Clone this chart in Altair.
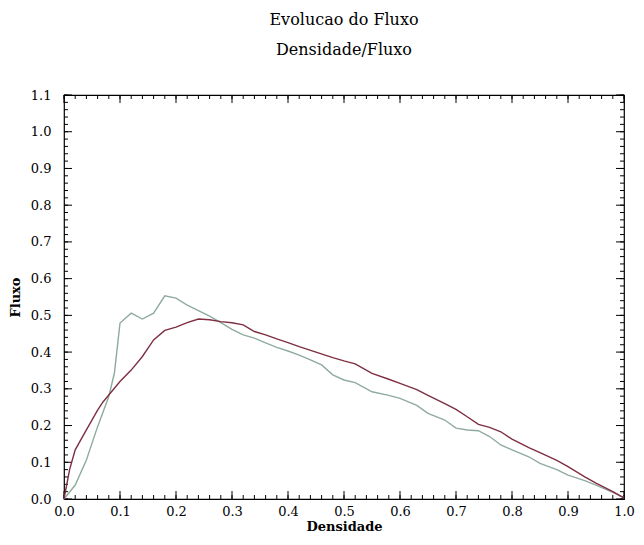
import altair as alt
import pandas as pd

# Red (dark) series
red_x = [0.0, 0.01, 0.02, 0.04, 0.06, 0.07, 0.08, 0.10, 0.12, 0.14, 0.16, 0.18, 0.20, 0.22, 0.24, 0.26,
         0.28, 0.30, 0.32, 0.34, 0.36, 0.38, 0.40, 0.42, 0.45, 0.48, 0.50, 0.52, 0.55, 0.58, 0.60, 0.63,
         0.65, 0.68, 0.70, 0.72, 0.74, 0.76, 0.78, 0.80, 0.83, 0.85, 0.88, 0.90, 0.93, 0.95, 0.98, 1.0]
red_y = [0.0, 0.08, 0.134, 0.188, 0.242, 0.265, 0.283, 0.32, 0.351, 0.388, 0.433, 0.459, 0.468, 0.48, 0.49, 0.488,
         0.483, 0.48, 0.474, 0.456, 0.447, 0.436, 0.426, 0.415, 0.40, 0.385, 0.376, 0.368, 0.342, 0.326, 0.315, 0.298,
         0.282, 0.26, 0.244, 0.224, 0.203, 0.195, 0.183, 0.163, 0.14, 0.126, 0.105, 0.088, 0.06, 0.043, 0.02, 0.003]

# Green (light) series
green_x = [0.0, 0.02, 0.04, 0.06, 0.08, 0.09, 0.10, 0.12, 0.14, 0.16, 0.18, 0.20, 0.22, 0.24, 0.26, 0.28,
           0.30, 0.32, 0.34, 0.36, 0.38, 0.40, 0.42, 0.44, 0.46, 0.48, 0.50, 0.52, 0.55, 0.58, 0.60, 0.63,
           0.65, 0.68, 0.70, 0.72, 0.74, 0.76, 0.78, 0.80, 0.83, 0.85, 0.88, 0.90, 0.93, 0.95, 0.98, 1.0]
green_y = [0.0, 0.038, 0.106, 0.197, 0.279, 0.343, 0.479, 0.506, 0.49, 0.506, 0.553, 0.547, 0.528, 0.513, 0.498, 0.48,
           0.462, 0.447, 0.438, 0.425, 0.413, 0.403, 0.392, 0.379, 0.365, 0.338, 0.324, 0.317, 0.292, 0.282, 0.274, 0.255,
           0.233, 0.215, 0.193, 0.188, 0.186, 0.17, 0.147, 0.134, 0.115, 0.097, 0.08, 0.065, 0.05, 0.038, 0.018, 0.003]

x_major = [round(0.1 * i, 2) for i in range(11)]
x_minor = [round(0.02 * i, 2) for i in range(51)]
y_major = [round(0.1 * i, 2) for i in range(12)]
y_minor = [round(0.02 * i, 2) for i in range(56)]

title_lines = ["Evolucao do Fluxo", "Densidade/Fluxo"]

W, H = 560, 404
FONT = "DejaVu Serif"

xs = alt.Scale(domain=[0, 1.0], nice=False, zero=False)
ys = alt.Scale(domain=[0, 1.1], nice=False, zero=False)

red_df = pd.DataFrame({"x": red_x, "y": red_y})
green_df = pd.DataFrame({"x": green_x, "y": green_y})

xaxis = alt.Axis(values=x_major, format=".1f", ticks=False, domain=False, grid=False,
                 labelFont=FONT, labelFontSize=13, labelColor="black", labelPadding=6,
                 labelFlush=False, labelOverlap=False, labelBound=False, tickCount=11,
                 title="Densidade", titleFont=FONT, titleFontSize=13, titleFontWeight="bold",
                 titleColor="black", titlePadding=2)
yaxis = alt.Axis(values=y_major, format=".1f", ticks=False, domain=False, grid=False,
                 labelFont=FONT, labelFontSize=13, labelColor="black", labelPadding=13,
                 labelFlush=False, labelOverlap=False, labelBound=False, tickCount=12,
                 title="Fluxo", titleFont=FONT, titleFontSize=13, titleFontWeight="bold",
                 titleColor="black", titlePadding=8)

red_line = alt.Chart(red_df).mark_line(color="#7e2f42", strokeWidth=1.4).encode(
    x=alt.X("x:Q", scale=xs, axis=xaxis),
    y=alt.Y("y:Q", scale=ys, axis=yaxis),
)
green_line = alt.Chart(green_df).mark_line(color="#8fab9f", strokeWidth=1.4).encode(
    x=alt.X("x:Q", scale=xs, axis=xaxis),
    y=alt.Y("y:Q", scale=ys, axis=yaxis),
)

def xticks(vals, length, top):
    df = pd.DataFrame({"v": vals})
    if top:
        y0, y1 = 0, length
    else:
        y0, y1 = H, H - length
    return alt.Chart(df).mark_rule(color="black", strokeWidth=1).encode(
        x=alt.X("v:Q", scale=xs, axis=xaxis), y=alt.value(y0), y2=alt.value(y1))

def yticks(vals, length, right):
    df = pd.DataFrame({"v": vals})
    if right:
        x0, x1 = W, W - length
    else:
        x0, x1 = 0, length
    return alt.Chart(df).mark_rule(color="black", strokeWidth=1).encode(
        y=alt.Y("v:Q", scale=ys, axis=yaxis), x=alt.value(x0), x2=alt.value(x1))

layers = [
    xticks(x_minor, 4, False), xticks(x_major, 8, False),
    xticks(x_minor, 4, True), xticks(x_major, 8, True),
    yticks(y_minor, 4, False), yticks(y_major, 8, False),
    yticks(y_minor, 4, True), yticks(y_major, 8, True),
    green_line, red_line,
]

chart = alt.layer(*layers).properties(
    width=W, height=H,
    autosize=alt.AutoSizeParams(type="none"),
    padding={"left": 56, "top": 87, "right": 12, "bottom": 38},
    title=alt.TitleParams(
        text=title_lines,
        font=FONT, fontSize=16, fontWeight="normal", color="black",
        lineHeight=30, anchor="middle", offset=15, baseline="bottom",
    ),
).configure_view(stroke="black", strokeWidth=1.2)

chart.save("out.html", embed_options={"renderer": "svg", "actions": False})
